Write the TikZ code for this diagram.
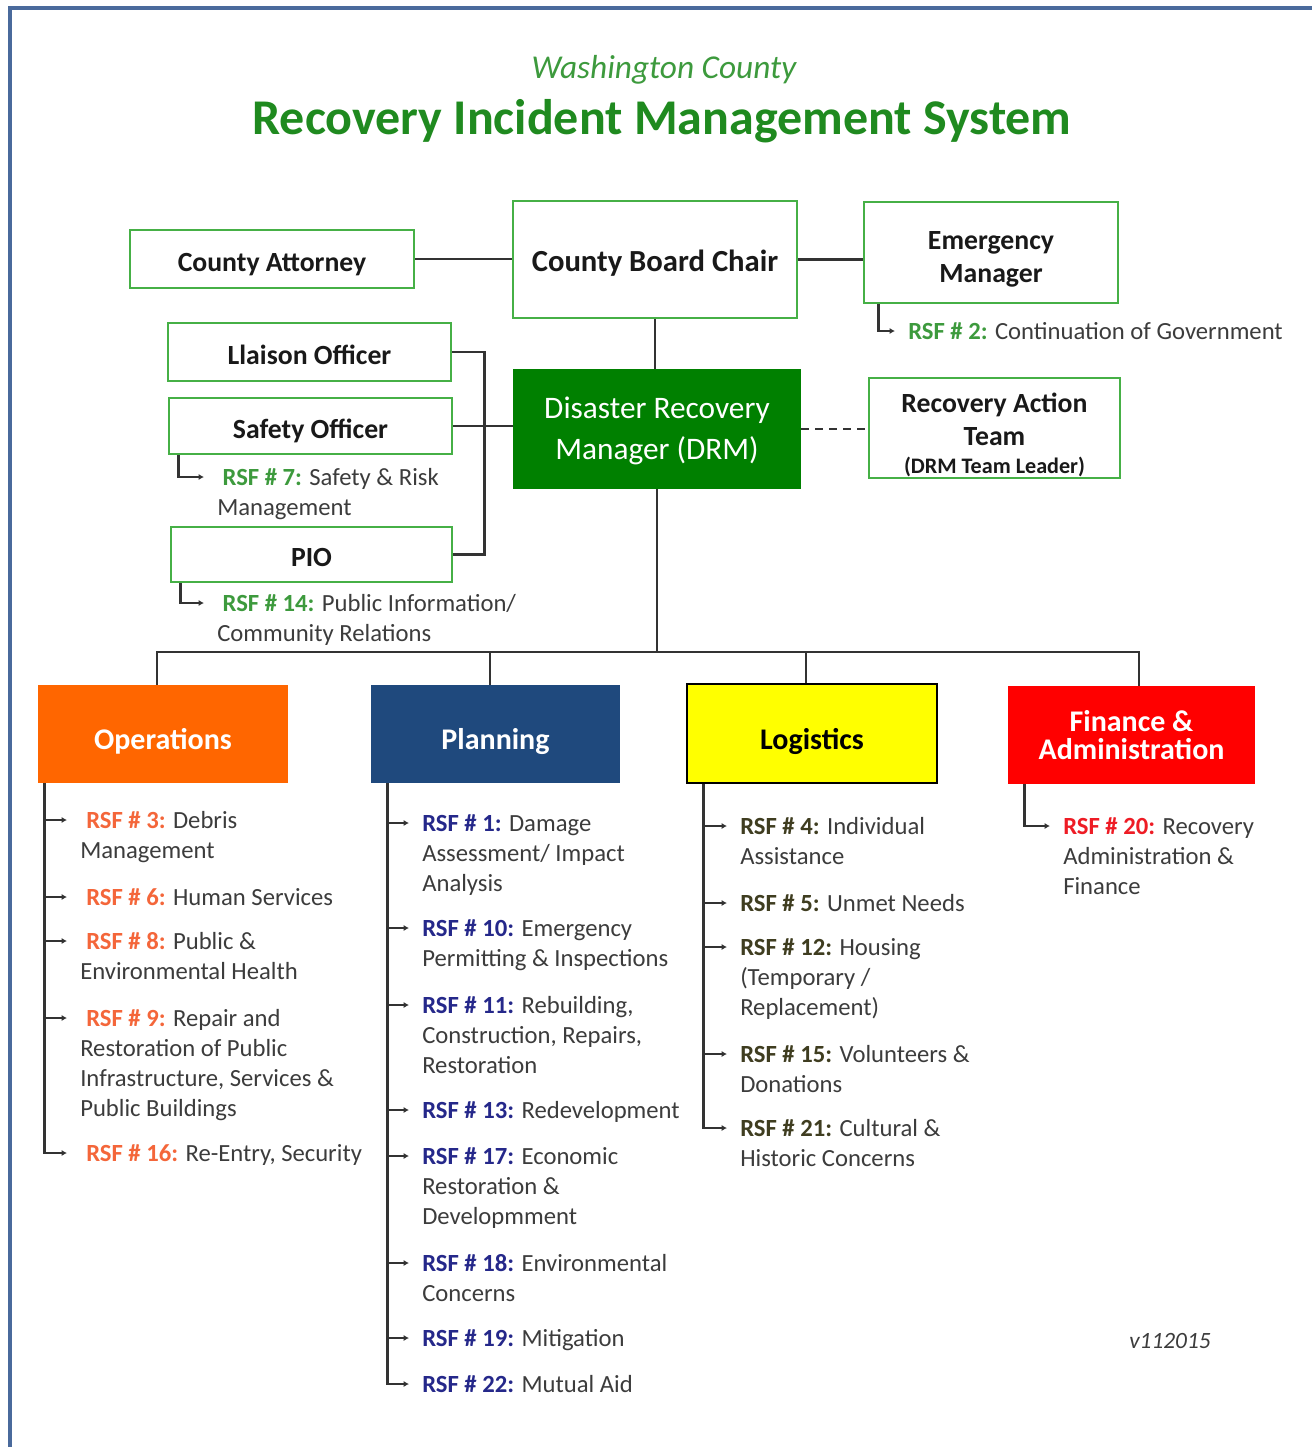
\documentclass[tikz,border=0pt]{standalone}
\usepackage{fontspec}
\setmainfont{Carlito}
\usetikzlibrary{calc,arrows.meta}

\definecolor{boxgreen}{HTML}{46B046}
\definecolor{drmgreen}{HTML}{008000}
\definecolor{titlegreen}{HTML}{1F8A1F}
\definecolor{rsfgreen}{HTML}{3D9A3D}
\definecolor{opsorange}{HTML}{FF6600}
\definecolor{opstext}{HTML}{F4663A}
\definecolor{plnblue}{HTML}{1F497D}
\definecolor{plntext}{HTML}{25288A}
\definecolor{logyellow}{HTML}{FFFF00}
\definecolor{logtext}{HTML}{3F3D20}
\definecolor{finred}{HTML}{FF0000}
\definecolor{fintext}{HTML}{EE1C25}
\definecolor{bodygray}{HTML}{3C3C3C}
\definecolor{linegray}{HTML}{333333}
\definecolor{frameblue}{HTML}{4A6A9C}

\newcommand\boxfont{\fontsize{20.8}{24.5}\selectfont\bfseries}
\newcommand\itemfont{\fontsize{18.5}{22.5}\selectfont}
% invisible rule that gives a first line extra room above it
\newcommand\toproom[1]{\rule{0pt}{#1}}

% one RSF entry: [indent]{name}{x}{y of first line}{colour}{number}{text}
\newcommand\rsf[7][0pt]{%
  \node[item] (#2) at (#3,#4-13) {\strut\hspace*{#1}\textcolor{#5}{\bfseries RSF \# #6:} #7};
  \coordinate (#2-t) at ($(#2.north west)+(-13,13)$);}

\begin{document}
\begin{tikzpicture}[x=0.75pt,y=-0.75pt,
  box/.style={draw=boxgreen, line width=2pt, fill=white, font=\boxfont, text=black!90, align=center, inner sep=0},
  lowtext/.style={execute at begin node={\rule{0pt}{#1}}, execute at end node={\rule[-5pt]{0pt}{0pt}}},
  lowtext/.default=23.6pt,
  sect/.style={font=\fontsize{22.5}{21}\selectfont\bfseries, text=white, align=center, inner sep=0, minimum width=187.5pt, minimum height=73.5pt},
  conn/.style={draw=linegray, line width=2pt},
  dashconn/.style={conn, dash pattern=on 6pt off 4.5pt},
  arr/.style={conn, -{Latex[length=4pt,width=4.5pt]}},
  item/.style={anchor=north west, inner sep=0, align=left, font=\itemfont, text=bodygray}]

\useasboundingbox (0,0) rectangle (1312,1447);
\fill[white] (0,0) rectangle (1312,1447);
\draw[frameblue, line width=2.5pt] (10,1447) -- (10,8) -- (1312,8);

% titles
\node[text=rsfgreen, font=\fontsize{25}{29}\selectfont\itshape] (sub) at (664,70) {Washington County};
\node[text=titlegreen, font=\fontsize{37.5}{42}\selectfont\bfseries] (title) at (662,121) {Recovery Incident Management System};

% command boxes
\node[box, lowtext, minimum width=213pt, minimum height=43.5pt] (ca) at (272,259) {County Attorney};
\node[box, lowtext, font=\fontsize{23}{27}\selectfont\bfseries, minimum width=213pt, minimum height=87.75pt] (cbc) at (655,259.5) {County Board Chair};
\node[box, minimum width=190.5pt, minimum height=75.75pt] (em) at (991,252.5) {\toproom{24pt}Emergency\\Manager};
\node[box, lowtext, minimum width=212.25pt, minimum height=43.5pt] (lo) at (309.5,352) {Llaison Officer};
\node[box, lowtext, minimum width=212.25pt, minimum height=42pt] (so) at (310.5,426) {Safety Officer};
\node[box, lowtext, minimum width=210.75pt, minimum height=41.25pt] (pio) at (311.5,554.5) {PIO};
\node[box, fill=drmgreen, draw=drmgreen, text=white, font=\fontsize{23.5}{30.75}\selectfont,
      minimum width=214.5pt, minimum height=88.5pt] (drm) at (657,429) {\toproom{19.5pt}Disaster Recovery\\Manager (DRM)};
\node[box, minimum width=188.25pt, minimum height=75pt] (rat) at (994.5,428)
  {\toproom{25pt}Recovery Action\\Team\\[-3pt]{\fontsize{16.6}{18}\selectfont (DRM Team Leader)}};

% section boxes
\node[sect, lowtext=28.5pt, fill=opsorange] (ops) at (163,734) {Operations};
\node[sect, lowtext=28.5pt, fill=plnblue, minimum width=186.75pt] (pln) at (495.5,734) {Planning};
\node[sect, lowtext=28.5pt, fill=logyellow, draw=black, line width=2pt, text=black, minimum height=74.25pt] (log) at (812,733.5) {Logistics};
\node[sect, fill=finred, minimum width=185.25pt] (fin) at (1131.5,735) {Finance \&\\Administration};

% upper connectors
\draw[conn] (ca.east) -- (ca.east -| cbc.west);
\draw[conn] (cbc.east) -- (cbc.east -| em.west);
\draw[conn] (cbc.south) -- (cbc.south |- drm.north);
\draw[conn] (so.east) -- (so.east -| drm.west);
\draw[conn] (lo.east) -- ++(32,0) |- (pio.east);
\draw[dashconn] (drm.east) -- (drm.east -| rat.west);
\draw[dashconn] ($(em.south)+(2,0)$) -- ($(em.south)+(2,0)$ |- rat.north);

% bus to the sections
\coordinate (bL) at (157,652);
\coordinate (bP) at (490,652);
\coordinate (bG) at (806,652);
\coordinate (bR) at (1139,652);
\draw[conn] (drm.south) -- (drm.south |- bL);
\draw[conn] (ops.north -| bL) -- (bL) -- (bR) -- (fin.north -| bR);
\draw[conn] (bP) -- (bP |- pln.north);
\draw[conn] (bG) -- (bG |- log.north);

% RSF entries under the command staff
\rsf[4pt]{r7}{217}{477}{rsfgreen}{7}{Safety \& Risk\\Management}
\rsf[4pt]{r14}{217}{603}{rsfgreen}{14}{Public Information/\\Community Relations}
\rsf{r2}{908}{331}{rsfgreen}{2}{Continuation of Government}
\draw[arr] ($(so.south west)+(11,0)$) |- (r7-t);
\draw[arr] ($(pio.south west)+(11,0)$) |- (r14-t);
\draw[arr] ($(em.south west)+(16,0)$) |- (r2-t);

% Operations
\rsf[4.5pt]{r3}{80}{820}{opstext}{3}{Debris\\Management}
\rsf[4.5pt]{r6}{80}{897}{opstext}{6}{Human Services}
\rsf[4.5pt]{r8}{80}{941}{opstext}{8}{Public \&\\Environmental Health}
\rsf[4.5pt]{r9}{80}{1018}{opstext}{9}{Repair and\\Restoration of Public\\Infrastructure, Services \&\\Public Buildings}
\rsf[4.5pt]{r16}{80}{1153}{opstext}{16}{Re-Entry, Security}
\coordinate (opsS) at ($(ops.south west)+(7,0)$);
\draw[arr] (opsS) |- (r16-t);
\foreach \n in {r3,r6,r8,r9} \draw[arr] (opsS |- \n-t) -- (\n-t);

% Planning
\rsf{r1}{422}{823}{plntext}{1}{Damage\\Assessment/ Impact\\Analysis}
\rsf{r10}{422}{928}{plntext}{10}{Emergency\\Permitting \& Inspections}
\rsf{r11}{422}{1005}{plntext}{11}{Rebuilding,\\Construction, Repairs,\\Restoration}
\rsf{r13}{422}{1110}{plntext}{13}{Redevelopment}
\rsf{r17}{422}{1156}{plntext}{17}{Economic\\Restoration \&\\Developmment}
\rsf{r18}{422}{1263}{plntext}{18}{Environmental\\Concerns}
\rsf{r19}{422}{1338}{plntext}{19}{Mitigation}
\rsf{r22}{422}{1384}{plntext}{22}{Mutual Aid}
\coordinate (plnS) at ($(pln.south west)+(17,0)$);
\draw[arr] (plnS) |- (r22-t);
\foreach \n in {r1,r10,r11,r13,r17,r18,r19} \draw[arr] (plnS |- \n-t) -- (\n-t);

% Logistics
\rsf{r4}{740}{826}{logtext}{4}{Individual\\Assistance}
\rsf{r5}{740}{903}{logtext}{5}{Unmet Needs}
\rsf{r12}{740}{947}{logtext}{12}{Housing\\(Temporary /\\Replacement)}
\rsf{r15}{740}{1054}{logtext}{15}{Volunteers \&\\Donations}
\rsf{r21}{740}{1128}{logtext}{21}{Cultural \&\\Historic Concerns}
\coordinate (logS) at ($(log.south west)+(18,0)$);
\draw[arr] (logS) |- (r21-t);
\foreach \n in {r4,r5,r12,r15} \draw[arr] (logS |- \n-t) -- (\n-t);

% Finance & Administration
\rsf{r20}{1063}{826}{fintext}{20}{Recovery\\Administration \&\\Finance}
\coordinate (finS) at ($(fin.south west)+(17,0)$);
\draw[arr] (finS) |- (r20-t);

% version tag
\node[text=bodygray, font=\fontsize{17.5}{20}\selectfont\itshape] (ver) at (1170,1341) {v112015};
\end{tikzpicture}
\end{document}
